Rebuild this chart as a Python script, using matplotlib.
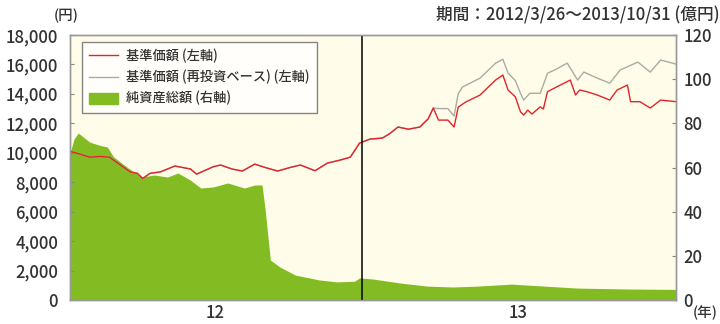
import matplotlib
matplotlib.use("Agg")
import matplotlib.pyplot as plt
import matplotlib.patches as mpatches
import matplotlib.lines as mlines
import numpy as np

plt.rcParams['font.family'] = ['Noto Sans CJK JP', 'DejaVu Sans']
plt.rcParams['font.weight'] = 'medium'

# 基準価額 (円)
nav_dates = ["2012-03-26", "2012-04-05", "2012-04-14", "2012-04-24", "2012-05-03",
             "2012-05-13", "2012-05-23", "2012-05-30", "2012-06-04", "2012-06-11",
             "2012-06-21", "2012-07-05", "2012-07-20", "2012-07-26", "2012-08-11",
             "2012-08-18", "2012-08-29", "2012-09-08", "2012-09-20", "2012-09-30",
             "2012-10-12", "2012-10-24", "2012-11-03", "2012-11-17", "2012-11-29",
             "2012-12-11", "2012-12-21", "2012-12-30", "2013-01-09", "2013-01-21",
             "2013-01-28", "2013-02-05", "2013-02-15", "2013-02-26", "2013-03-06",
             "2013-03-11", "2013-03-16", "2013-03-25", "2013-03-31", "2013-04-04",
             "2013-04-11", "2013-04-25", "2013-05-10", "2013-05-17", "2013-05-22",
             "2013-05-29", "2013-06-03", "2013-06-06", "2013-06-10", "2013-06-14",
             "2013-06-22", "2013-06-25", "2013-06-29", "2013-07-08", "2013-07-21",
             "2013-07-26", "2013-07-30", "2013-08-06", "2013-08-16", "2013-08-28",
             "2013-09-04", "2013-09-14", "2013-09-17", "2013-09-26", "2013-10-06",
             "2013-10-16", "2013-10-31"]
nav = [10100, 9900, 9700, 9750, 9700,
       9200, 8700, 8600, 8250, 8600,
       8700, 9100, 8900, 8550, 9050,
       9170, 8900, 8760, 9230, 9000,
       8760, 9000, 9170, 8780, 9300,
       9500, 9700, 10660, 10930, 11000,
       11300, 11750, 11600, 11750, 12300,
       13040, 12220, 12220, 11750, 13100,
       13440, 13920, 14940, 15280, 14260,
       13800, 12780, 12560, 12900, 12630,
       13120, 12970, 14150, 14480, 14940,
       13920, 14260, 14150, 13920, 13580,
       14260, 14600, 13470, 13470, 13040,
       13580, 13470]

# 基準価額 (再投資ベース) - same as nav until 2013-03-11
reinv_dates = ["2013-03-16", "2013-03-25", "2013-03-31", "2013-04-04", "2013-04-08",
               "2013-04-25", "2013-05-10", "2013-05-17", "2013-05-22", "2013-05-29",
               "2013-06-03", "2013-06-06", "2013-06-12", "2013-06-22", "2013-06-29",
               "2013-07-08", "2013-07-18", "2013-07-28", "2013-08-03", "2013-08-16",
               "2013-08-28", "2013-09-07", "2013-09-24", "2013-10-06", "2013-10-16",
               "2013-10-31"]
reinv = [13000, 13000, 12500, 14000, 14460,
         15070, 16090, 16350, 15410, 14900,
         14040, 13580, 14040, 14040, 15400,
         15700, 16090, 14940, 15480, 15070,
         14730, 15620, 16160, 15480, 16300,
         16020]

# 純資産総額 (億円)
aum_dates = ["2012-03-26", "2012-03-30", "2012-04-03", "2012-04-14", "2012-04-24",
             "2012-05-01", "2012-05-07", "2012-05-21", "2012-06-03", "2012-06-15",
             "2012-06-28", "2012-07-08", "2012-07-20", "2012-07-30", "2012-08-11",
             "2012-08-25", "2012-09-10", "2012-09-20", "2012-09-27", "2012-09-30",
             "2012-10-05", "2012-10-14", "2012-10-29", "2012-11-21", "2012-12-08",
             "2012-12-25", "2012-12-30", "2013-01-12", "2013-02-07", "2013-03-05",
             "2013-03-30", "2013-04-23", "2013-05-25", "2013-06-26", "2013-07-28",
             "2013-09-14", "2013-10-31"]
aum = [66.6, 73.0, 75.6, 71.5, 70.0,
       69.3, 64.8, 59.8, 55.7, 56.6,
       55.7, 57.5, 54.3, 50.7, 51.2,
       53.0, 50.7, 52.1, 52.1, 40.8,
       18.1, 15.0, 11.3, 9.1, 8.2,
       8.5, 10.0, 9.5, 7.7, 6.3,
       5.9, 6.3, 7.2, 6.3, 5.4,
       5.0, 4.8]

nav_x = np.array(nav_dates, dtype="datetime64[D]")
split = list(nav_dates).index("2013-03-11")
reinv_x = np.concatenate([nav_x[:split + 1], np.array(reinv_dates, dtype="datetime64[D]")])
reinv_y = list(nav[:split + 1]) + reinv
aum_x = np.array(aum_dates, dtype="datetime64[D]")

start = np.datetime64("2012-03-26")
end = np.datetime64("2013-10-31")
year_line = np.datetime64("2013-01-01")

red = "#e2232b"
gray = "#a9aca4"
green = "#82bb22"
txt = "#333333"

fig = plt.figure(figsize=(7.2, 3.24), dpi=100)
ax2 = fig.add_axes([0.0972, 0.074, 0.842, 0.818])
ax = ax2.twinx()
ax2.yaxis.tick_right()
ax.yaxis.tick_left()

ax2.set_facecolor("#fffde9")
ax2.fill_between(aum_x, aum, 0, color=green, lw=0)
ax2.set_ylim(0, 120)
ax2.set_yticks([0, 20, 40, 60, 80, 100, 120])

ax.plot(reinv_x, reinv_y, color=gray, lw=1.0)
ax.plot(nav_x, nav, color=red, lw=1.0)
ax.axvline(year_line, color="black", lw=1.1)
ax.set_ylim(0, 18000)
ax.set_yticks(range(0, 18001, 2000))
ax.set_yticklabels([f"{v:,}" for v in range(0, 18001, 2000)])
ax.set_xlim(start, end)

for a in (ax, ax2):
    a.tick_params(axis="y", direction="in", length=3, colors="#888888",
                  labelcolor=txt, labelsize=12, pad=5)
    for s in a.spines.values():
        s.set_color("#999999")
        s.set_linewidth(1.0)
ax.tick_params(axis="y", pad=8.5)

ax2.set_xticks([np.datetime64("2012-08-13"), np.datetime64("2013-06-01")])
ax2.set_xticklabels(["12", "13"])
ax2.tick_params(axis="x", length=0, labelsize=12, labelcolor=txt, pad=3)

fig.text(0.074, 0.952, "(円)", fontsize=10.5, color=txt, ha="left", va="center")
fig.text(1.0, 0.952, "期間：2012/3/26～2013/10/31 (億円)", fontsize=12,
         color=txt, ha="right", va="center")
fig.text(0.98, 0.035, "(年)", fontsize=10.5, color=txt, ha="center", va="center")

handles = [mlines.Line2D([], [], color=red, lw=1.0),
           mlines.Line2D([], [], color=gray, lw=1.0),
           mpatches.Patch(color=green)]
labels = ["基準価額 (左軸)", "基準価額 (再投資ベース) (左軸)", "純資産総額 (右軸)"]
leg = ax.legend(handles, labels, loc="upper left", bbox_to_anchor=(0.015, 0.985),
                fontsize=9.5, frameon=True, fancybox=False, handlelength=2.2,
                handleheight=0.9, borderpad=0.55, labelspacing=0.5,
                handletextpad=0.6, borderaxespad=0.2)
leg.get_frame().set_edgecolor("#666666")
leg.get_frame().set_linewidth(1.0)
for t in leg.get_texts():
    t.set_color(txt)

fig.savefig("out.png", dpi=100)
